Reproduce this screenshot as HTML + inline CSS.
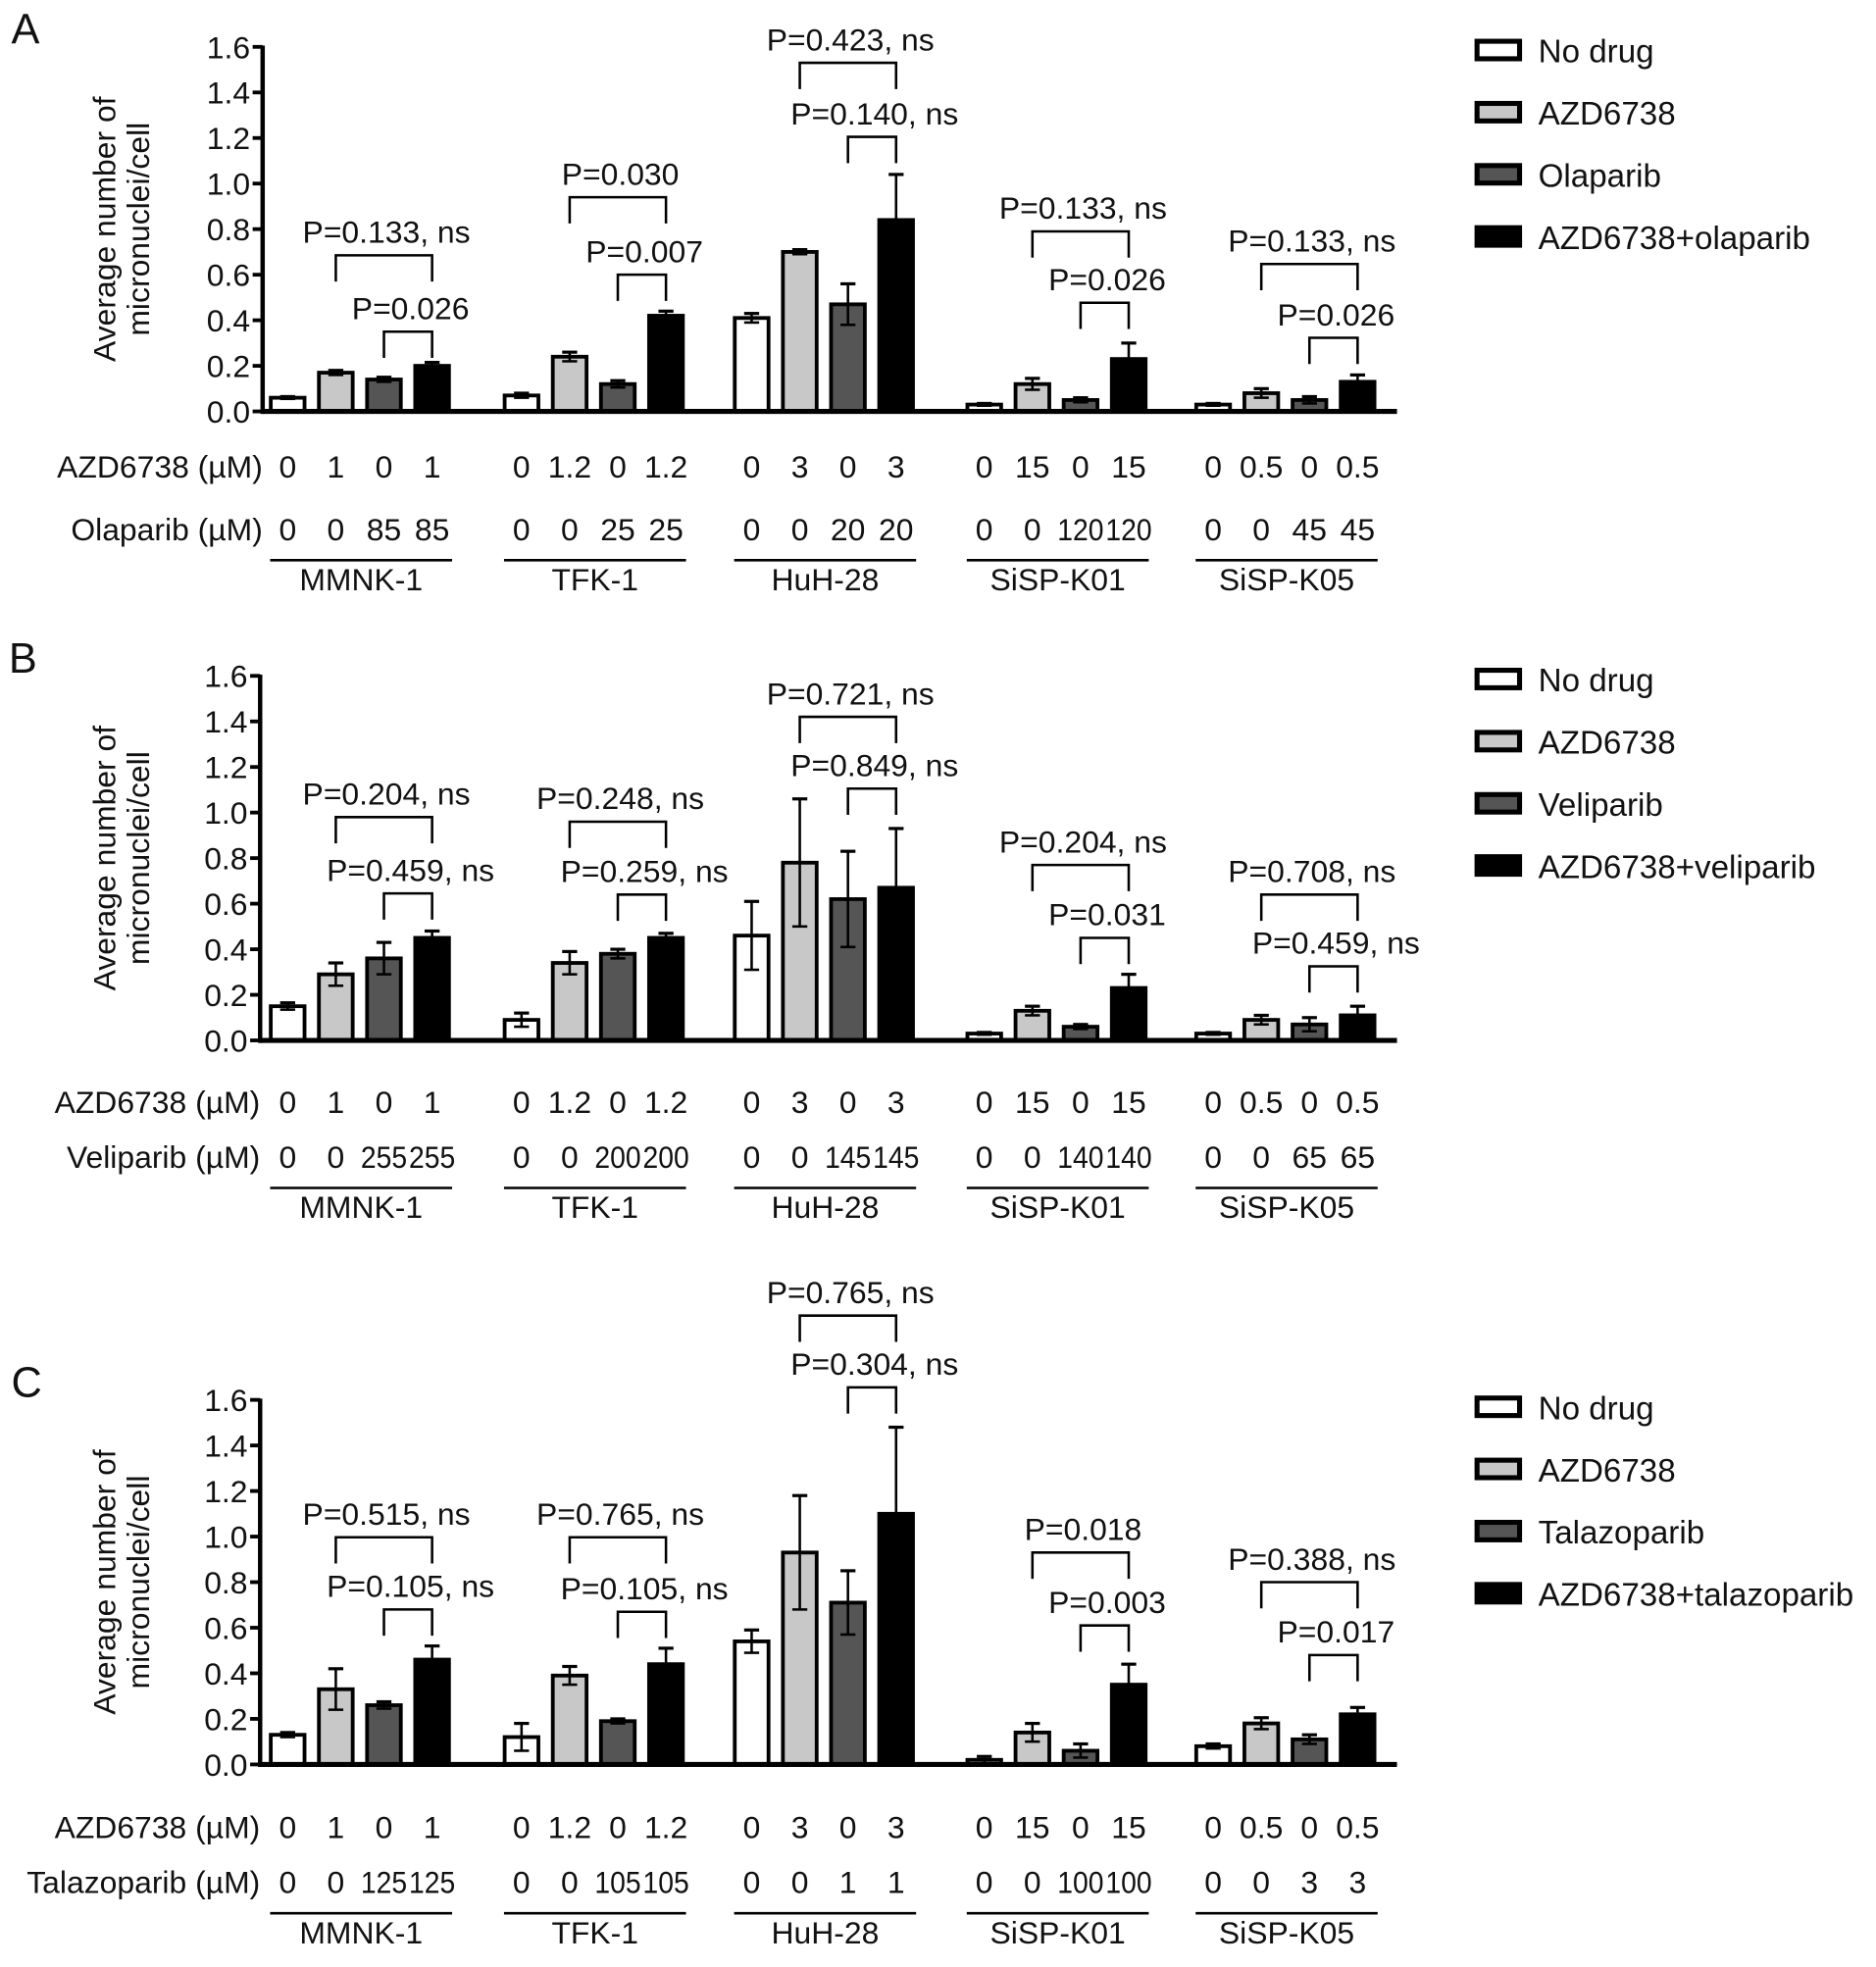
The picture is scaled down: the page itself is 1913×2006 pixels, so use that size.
<!DOCTYPE html>
<html><head><meta charset="utf-8"><style>
html,body{margin:0;padding:0;background:#fff}
svg{display:block}
text{font-family:"Liberation Sans",sans-serif;fill:#111}
</style></head><body>
<svg id="fig" xmlns="http://www.w3.org/2000/svg" width="1913" height="2006" viewBox="0 0 1500 1573" preserveAspectRatio="none"></svg>
<script>
const cellLines = ["MMNK-1","TFK-1","HuH-28","SiSP-K01","SiSP-K05"];
const yTicks = [0,0.2,0.4,0.6,0.8,1.0,1.2,1.4,1.6];
const yTickLabels = ["0.0","0.2","0.4","0.6","0.8","1.0","1.2","1.4","1.6"];
const seriesColors = ["#ffffff","#c8c8c8","#555555","#000000"];

const aValues = [[0.06,0.17,0.14,0.20],[0.07,0.24,0.12,0.42],[0.41,0.70,0.47,0.84],[0.03,0.12,0.05,0.23],[0.03,0.08,0.05,0.13]];
const aErrors = [[0.005,0.01,0.01,0.015],[0.01,0.02,0.015,0.02],[0.02,0.01,0.09,0.20],[0.005,0.025,0.01,0.07],[0.005,0.02,0.015,0.03]];
const aAzd = [["0","1","0","1"],["0","1.2","0","1.2"],["0","3","0","3"],["0","15","0","15"],["0","0.5","0","0.5"]];
const aParp = [["0","0","85","85"],["0","0","25","25"],["0","0","20","20"],["0","0","120","120"],["0","0","45","45"]];
const aOuterP = ["P=0.133, ns","P=0.030","P=0.423, ns","P=0.133, ns","P=0.133, ns"];
const aOuterY = [0.685,0.94,1.53,0.79,0.647];
const aInnerP = ["P=0.026","P=0.007","P=0.140, ns","P=0.026","P=0.026"];
const aInnerY = [0.35,0.60,1.205,0.477,0.323];
const aLegend = ["No drug","AZD6738","Olaparib","AZD6738+olaparib"];

const bValues = [[0.15,0.29,0.36,0.45],[0.09,0.34,0.38,0.45],[0.46,0.78,0.62,0.67],[0.03,0.13,0.06,0.23],[0.03,0.09,0.07,0.11]];
const bErrors = [[0.015,0.05,0.07,0.03],[0.03,0.05,0.02,0.02],[0.15,0.28,0.21,0.26],[0.005,0.02,0.01,0.06],[0.005,0.02,0.03,0.04]];
const bAzd = aAzd;
const bParp = [["0","0","255","255"],["0","0","200","200"],["0","0","145","145"],["0","0","140","140"],["0","0","65","65"]];
const bOuterP = ["P=0.204, ns","P=0.248, ns","P=0.721, ns","P=0.204, ns","P=0.708, ns"];
const bOuterY = [0.98,0.96,1.42,0.77,0.64];
const bInnerP = ["P=0.459, ns","P=0.259, ns","P=0.849, ns","P=0.031","P=0.459, ns"];
const bInnerY = [0.645,0.64,1.105,0.45,0.325];
const bLegend = ["No drug","AZD6738","Veliparib","AZD6738+veliparib"];

const cValues = [[0.13,0.33,0.26,0.46],[0.12,0.39,0.19,0.44],[0.54,0.93,0.71,1.10],[0.02,0.14,0.06,0.35],[0.08,0.18,0.11,0.22]];
const cErrors = [[0.01,0.09,0.015,0.06],[0.06,0.04,0.01,0.07],[0.05,0.25,0.14,0.38],[0.015,0.04,0.03,0.09],[0.01,0.025,0.02,0.03]];
const cAzd = aAzd;
const cParp = [["0","0","125","125"],["0","0","105","105"],["0","0","1","1"],["0","0","100","100"],["0","0","3","3"]];
const cOuterP = ["P=0.515, ns","P=0.765, ns","P=0.765, ns","P=0.018","P=0.388, ns"];
const cOuterY = [0.997,0.997,1.97,0.93,0.80];
const cInnerP = ["P=0.105, ns","P=0.105, ns","P=0.304, ns","P=0.003","P=0.017"];
const cInnerY = [0.68,0.67,1.655,0.61,0.48];
const cLegend = ["No drug","AZD6738","Talazoparib","AZD6738+talazoparib"];

const NS="http://www.w3.org/2000/svg";
const svg=document.getElementById('fig');
function el(tag,attrs,parent,txt){const e=document.createElementNS(NS,tag);for(const k in attrs)e.setAttribute(k,attrs[k]);if(txt!==undefined)e.textContent=txt;(parent||svg).appendChild(e);return e;}

const groupX0=[230,417,601,787,970];
const groupStep=[38.5,38.5,38.5,38.5,38.5];
const FS=25;

function panel(cfg){
  const g=el('g',{});
  
  
  const zeroY=cfg.zero, unit=182.2, axX=cfg.axX;
  const y=v=>zeroY-v*unit;
  const xb=(gi,bi)=>groupX0[gi]+bi*groupStep[gi];
  const L=el('text',{x:cfg.lx,y:zeroY-294,'font-size':34},g,cfg.letter);
  
  const yt=el('text',{transform:`translate(97,${y(0.8)}) rotate(-90)`,'text-anchor':'middle','font-size':25},g);
  
  el('tspan',{x:0,dy:-5},yt,'Average number of');
  el('tspan',{x:0,dy:27},yt,'micronuclei/cell');
  yTicks.forEach((t,i)=>{
    el('line',{x1:axX-8,x2:axX,y1:y(t),y2:y(t),stroke:'#000','stroke-width':3},g);
    const tl=el('text',{x:axX-10,y:y(t)+9,'text-anchor':'end','font-size':FS},g,yTickLabels[i]);
    
  });
  const ya=el('line',{x1:axX,x2:axX,y1:y(1.6)-1,y2:zeroY+2,stroke:'#000','stroke-width':3.5},g);
  
  const bw=27;
  cfg.values.forEach((grp,gi)=>{
    grp.forEach((v,bi)=>{
      const cx=xb(gi,bi), top=y(v), e=cfg.errors[gi][bi];
      const r=el('rect',{x:cx-bw/2,y:top,width:bw,height:zeroY-top,fill:seriesColors[bi],stroke:'#000','stroke-width':3},g);
      
      el('line',{x1:cx,x2:cx,y1:y(v+e),y2:y(Math.max(0,v-e)),stroke:'#000','stroke-width':2},g);
      el('line',{x1:cx-6,x2:cx+6,y1:y(v+e),y2:y(v+e),stroke:'#000','stroke-width':2.5},g);
      el('line',{x1:cx-6,x2:cx+6,y1:y(Math.max(0,v-e)),y2:y(Math.max(0,v-e)),stroke:'#000','stroke-width':2},g);
      const a=el('text',{x:cx,y:cfg.row1,'text-anchor':'middle','font-size':FS},g,cfg.azd[gi][bi]);
      
      const pa={x:cx,y:cfg.row2,'text-anchor':'middle','font-size':FS};
      if(cfg.parp[gi][bi].length>=3){pa.textLength=37;pa.lengthAdjust='spacingAndGlyphs';}
      const p=el('text',pa,g,cfg.parp[gi][bi]);
      
    });
    const x1=xb(gi,0)-14,x2=xb(gi,3)+16;
    el('line',{x1:x1,x2:x2,y1:cfg.row2+16,y2:cfg.row2+16,stroke:'#000','stroke-width':2},g);
    const cl=el('text',{x:(x1+x2)/2,y:cfg.row2+40,'text-anchor':'middle','font-size':FS},g,cellLines[gi]);
    
    [[1,cfg.outerY[gi],cfg.outerP[gi]],[2,cfg.innerY[gi],cfg.innerP[gi]]].forEach(([s,bv,txt])=>{
      const bx1=xb(gi,s), bx2=xb(gi,3), by=y(bv);
      el('path',{d:`M${bx1},${by+21} V${by} H${bx2} V${by+21}`,fill:'none',stroke:'#000','stroke-width':2},g);
      const pt=el('text',{x:(bx1+bx2)/2+2,y:by-10,'text-anchor':'middle','font-size':FS},g,txt);
      
    });
  });
  const xa=el('line',{x1:axX,x2:1117,y1:zeroY,y2:zeroY,stroke:'#000','stroke-width':4},g);
  
  const rl1=el('text',{x:axX,y:cfg.row1,'text-anchor':'end','font-size':FS},g,'AZD6738 (\u00b5M)');
  
  const rl2=el('text',{x:axX,y:cfg.row2,'text-anchor':'end','font-size':FS},g,cfg.parpName+' (\u00b5M)');
  
  cfg.legend.forEach((t,i)=>{
    const ly=cfg.leg0+i*49.7;
    const lb=el('rect',{x:1181,y:ly-7,width:34,height:14,fill:seriesColors[i],stroke:'#000','stroke-width':4},g);
    
    const lt=el('text',{x:1230,y:ly+10,'font-size':26},g,t);
    
  });
}
panel({letter:'A',lx:9,zero:329,axX:210,row1:382,row2:432,values:aValues,errors:aErrors,azd:aAzd,parp:aParp,outerP:aOuterP,outerY:aOuterY,innerP:aInnerP,innerY:aInnerY,legend:aLegend,parpName:'Olaparib',leg0:40});
panel({letter:'B',lx:7,zero:832,axX:208,row1:890,row2:934,values:bValues,errors:bErrors,azd:bAzd,parp:bParp,outerP:bOuterP,outerY:bOuterY,innerP:bInnerP,innerY:bInnerY,legend:bLegend,parpName:'Veliparib',leg0:543});
panel({letter:'C',lx:9,zero:1411,axX:208,row1:1470,row2:1514,values:cValues,errors:cErrors,azd:cAzd,parp:cParp,outerP:cOuterP,outerY:cOuterY,innerP:cInnerP,innerY:cInnerY,legend:cLegend,parpName:'Talazoparib',leg0:1125});
</script>
</body></html>
